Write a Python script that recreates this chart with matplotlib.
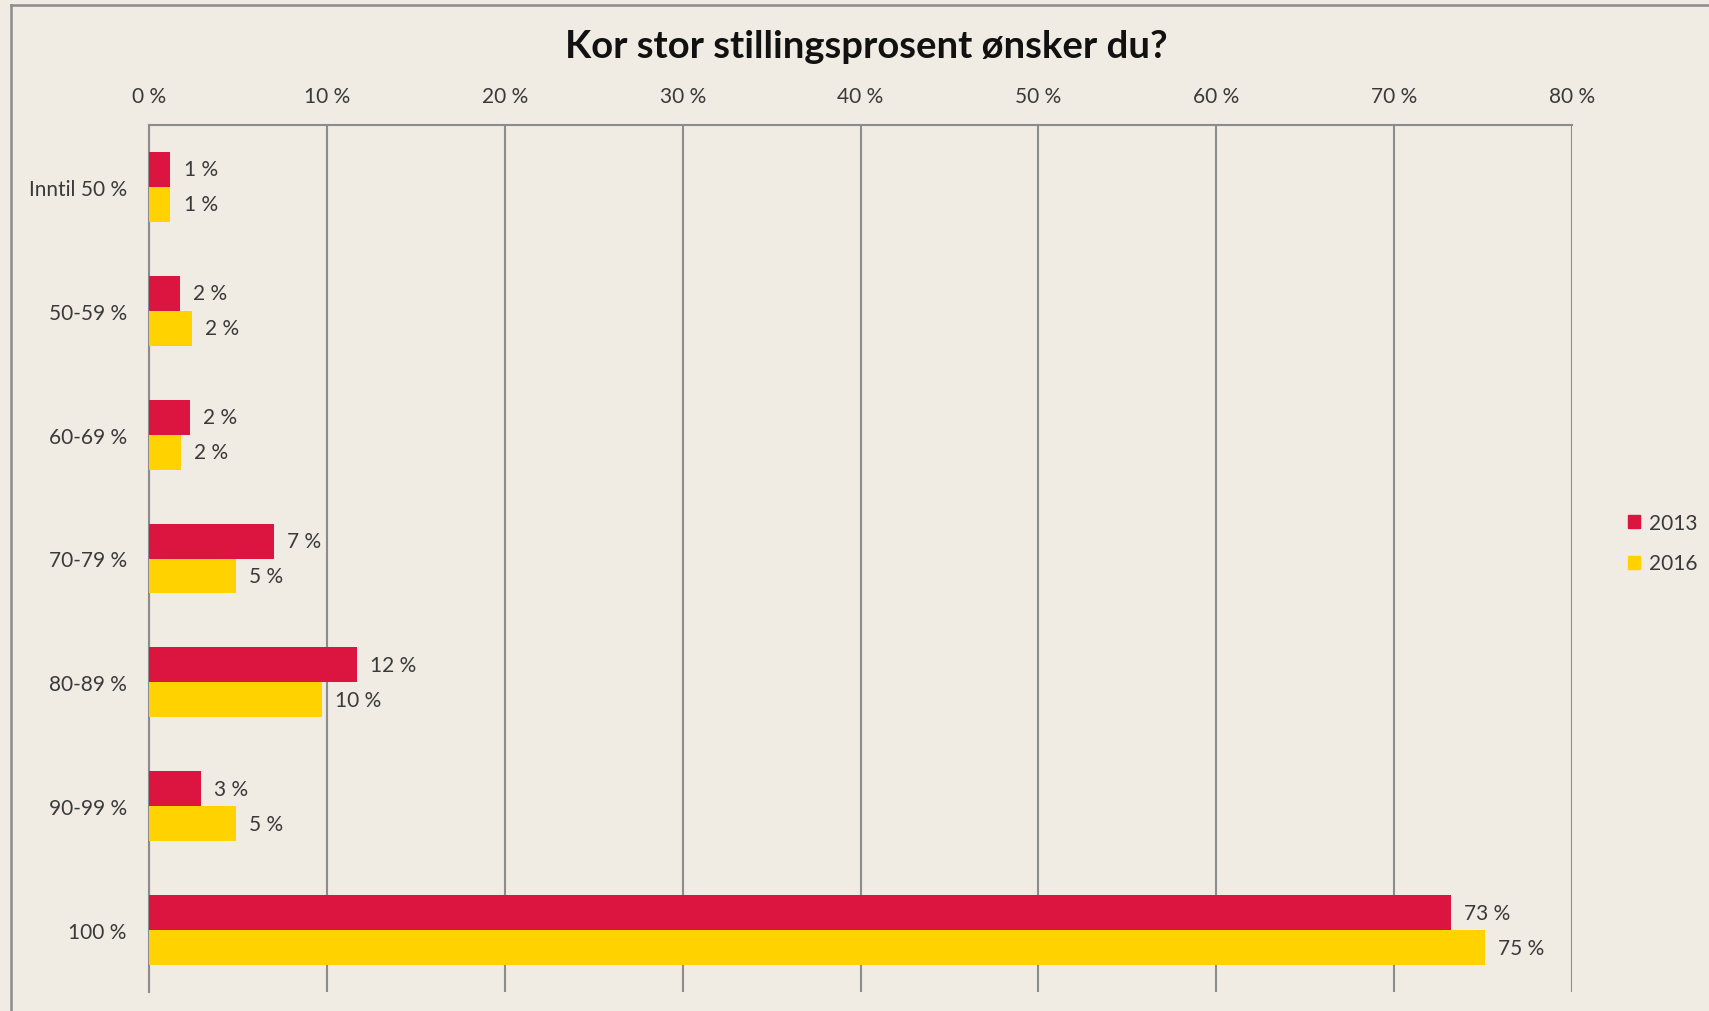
import numpy as np
import matplotlib
matplotlib.use("Agg")
import matplotlib.pyplot as plt
from matplotlib.lines import Line2D
from matplotlib.patches import Patch

# --- data ---
categories = ["Inntil 50 %", "50-59 %", "60-69 %", "70-79 %", "80-89 %", "90-99 %", "100 %"]
share_2013 = [1.2, 1.75, 2.3, 7.0, 11.7, 2.9, 73.2]
share_2016 = [1.2, 2.4, 1.8, 4.9, 9.7, 4.9, 75.1]
series_names = ["2013", "2016"]
x_ticks = [0, 10, 20, 30, 40, 50, 60, 70, 80]

BG = "#F0ECE4"
RED = "#DC1540"
YELLOW = "#FFD200"
GRID = "#8C8C8C"
TXT = "#3A3A3A"
FS = 15

plt.rcParams["font.family"] = ["Lato", "DejaVu Sans"]

fig = plt.figure(figsize=(17.09, 10.12), dpi=100, facecolor=BG)
ax = fig.add_axes([149 / 1709, 1 - 993 / 1012, (1572 - 149) / 1709, (993 - 126) / 1012])
ax.set_facecolor(BG)

y = np.arange(len(categories))
h = 0.282
ax.barh(y - h / 2, share_2013, height=h, color=RED, zorder=3)
ax.barh(y + h / 2, share_2016, height=h, color=YELLOW, zorder=3)

for yi, v in zip(y, share_2013):
    ax.text(v + 0.75, yi - h / 2, f"{v:.0f} %", va="center", ha="left", fontsize=FS, color=TXT)
for yi, v in zip(y, share_2016):
    ax.text(v + 0.75, yi + h / 2, f"{v:.0f} %", va="center", ha="left", fontsize=FS, color=TXT)

ax.set_xlim(0, 80)
ax.set_ylim(len(categories) - 0.5, -0.5)
ax.xaxis.tick_top()
ax.set_xticks(x_ticks)
ax.set_xticklabels([f"{t} %" for t in x_ticks])
ax.set_yticks(y)
ax.set_yticklabels(categories)
ax.tick_params(axis="both", length=0, labelsize=FS, colors=TXT)
ax.tick_params(axis="x", pad=14)
ax.tick_params(axis="y", pad=16)

ax.grid(axis="x", color=GRID, linewidth=1.5, zorder=0)
ax.set_axisbelow(True)
for side in ["bottom", "right"]:
    ax.spines[side].set_visible(False)
for side in ["top", "left"]:
    ax.spines[side].set_color(GRID)
    ax.spines[side].set_linewidth(1.5)

fig.text(866 / 1709, 1 - 47 / 1012, "Kor stor stillingsprosent ønsker du?",
         ha="center", va="center", fontsize=27.5, fontweight="bold", color="#111111")

handles = [Patch(color=RED, label=series_names[0]), Patch(color=YELLOW, label=series_names[1])]
fig.legend(handles=handles, loc="center left", bbox_to_anchor=(1628 / 1709, 1 - 544 / 1012),
           frameon=False, fontsize=FS, handlelength=0.58, handleheight=0.58,
           handletextpad=0.45, labelspacing=1.0, borderpad=0, borderaxespad=0,
           labelcolor=TXT)

# outer frame (left and top edges only visible)
fig.add_artist(Line2D([11 / 1709, 11 / 1709], [0, 1 - 6 / 1012], color=GRID, linewidth=1.8))
fig.add_artist(Line2D([11 / 1709, 1], [1 - 6 / 1012, 1 - 6 / 1012], color=GRID, linewidth=1.8))

fig.savefig("out.png", dpi=100, facecolor=BG)
